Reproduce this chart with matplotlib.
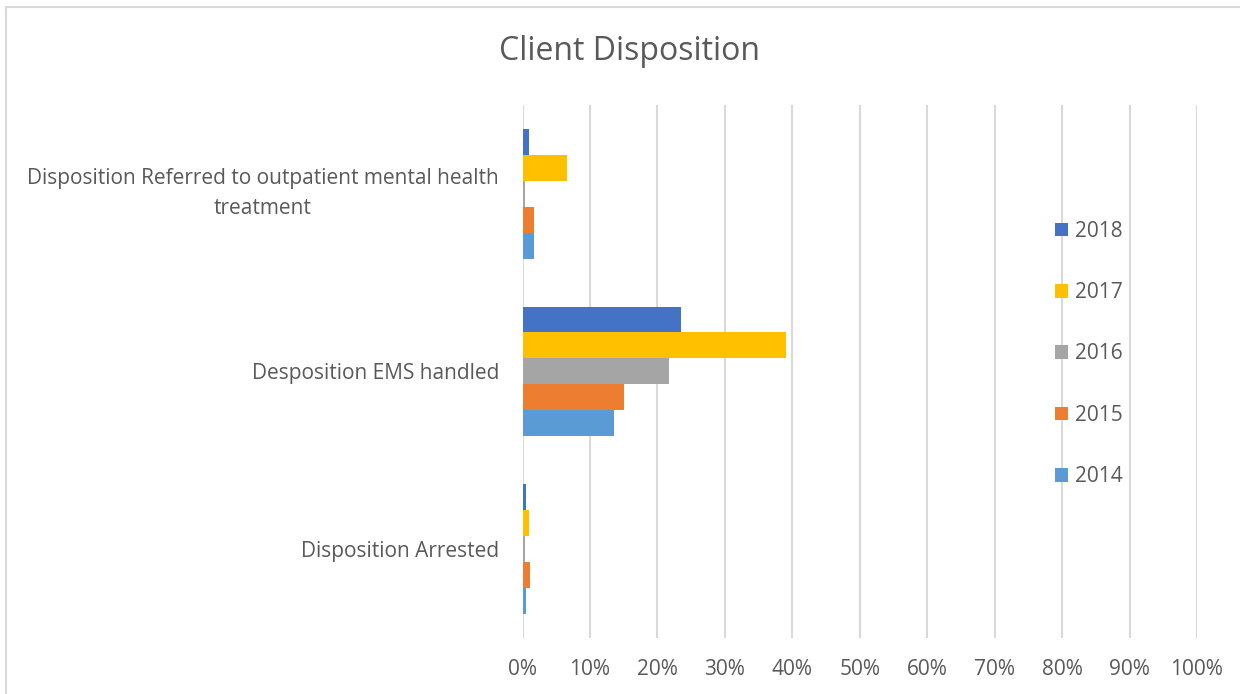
import matplotlib
matplotlib.use("Agg")
import matplotlib.pyplot as plt
from matplotlib.patches import Rectangle
from matplotlib.ticker import PercentFormatter
import numpy as np

categories = [
    "Disposition Arrested",
    "Desposition EMS handled",
    "Disposition Referred to outpatient mental health\ntreatment",
]
years = ["2014", "2015", "2016", "2017", "2018"]
values = {
    "2014": [0.55, 13.6, 1.75],
    "2015": [1.07, 15.0, 1.7],
    "2016": [0.35, 21.7, 0.4],
    "2017": [0.9, 39.0, 6.6],
    "2018": [0.5, 23.5, 0.93],
}
colors = {
    "2014": "#5B9BD5",
    "2015": "#ED7D31",
    "2016": "#A5A5A5",
    "2017": "#FFC000",
    "2018": "#4472C4",
}
xticks = np.arange(0, 101, 10)

text_color = "#595959"
plt.rcParams["font.family"] = ["Open Sans", "DejaVu Sans"]

fig = plt.figure(figsize=(12.4, 6.94), dpi=100)
W, H = 1240, 694
ax = fig.add_axes([522.5 / W, 1 - 637.75 / H, (1197 - 522.5) / W, (637.75 - 105) / H])

# chart border
fig.add_artist(Rectangle((6 / W, -0.1), 1.2, 1 - 7 / H + 0.1, transform=fig.transFigure,
                         fill=False, edgecolor="#d9d9d9", linewidth=1.5))

y = np.arange(len(categories))
bar_h = 0.146
handles = {}
for i, yr in enumerate(years):
    offset = (i - 2) * bar_h
    handles[yr] = ax.barh(y + offset, np.array(values[yr]) / 100, height=bar_h,
                          color=colors[yr], label=yr, zorder=3)

ax.set_xlim(0, 1.0)
ax.set_ylim(-0.5, 2.5)
ax.set_xticks(xticks / 100)
ax.xaxis.set_major_formatter(PercentFormatter(1.0, decimals=0))
ax.set_yticks(y)
ax.set_yticklabels(categories, multialignment="center")
for lbl in ax.get_yticklabels():
    lbl.set_linespacing(1.55)
    if "\n" in lbl.get_text():
        lbl.set_verticalalignment("center")
ax.tick_params(axis="both", length=0, labelsize=15, colors=text_color)
ax.tick_params(axis="x", pad=15)
ax.tick_params(axis="y", pad=17)
ax.grid(axis="x", color="#d9d9d9", linewidth=1.5, zorder=0)
for s in ax.spines.values():
    s.set_visible(False)

fig.text(629.5 / W, 1 - 52 / H, "Client Disposition", ha="center", va="center",
         fontsize=23, color=text_color)

order = ["2018", "2017", "2016", "2015", "2014"]
leg = fig.legend([handles[k] for k in order], order, loc="center left",
                 bbox_to_anchor=(1036 / W, 1 - 354 / H), frameon=False,
                 fontsize=15, labelspacing=1.94, handlelength=0.63, handleheight=0.63,
                 handletextpad=0.34, labelcolor=text_color)

fig.savefig("out.png", dpi=100)
